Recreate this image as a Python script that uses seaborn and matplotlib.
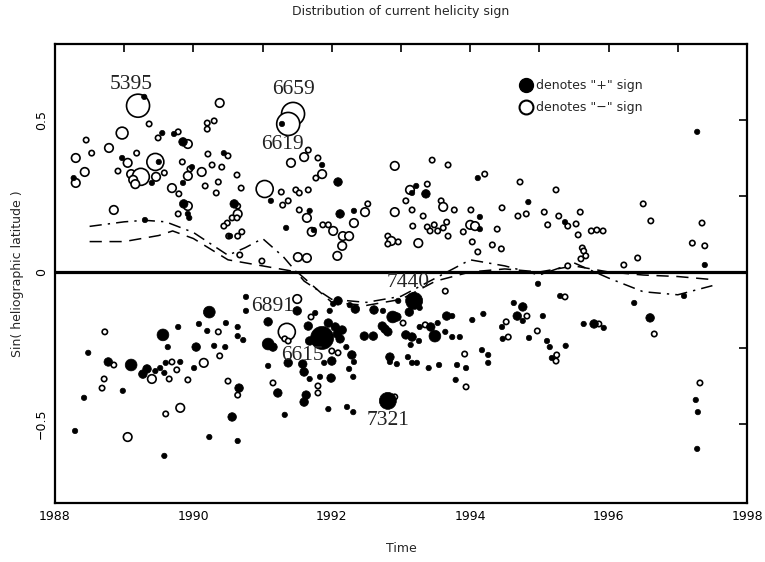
import numpy as np
import pandas as pd
import matplotlib
matplotlib.use("Agg")
import matplotlib.pyplot as plt
import seaborn as sns
from matplotlib.lines import Line2D

# ---------------- data ----------------
# "-" sign (open circles): year, sin(latitude), size class
neg_year = [1989.20, 1990.38, 1989.36, 1988.97, 1990.30, 1990.20, 1990.20, 1988.45, 1989.49, 1989.78,
            1989.92, 1988.78, 1988.53, 1989.18, 1988.30, 1989.45, 1989.05, 1989.84, 1990.21, 1990.50,
            1989.95, 1990.12, 1990.27, 1990.41, 1988.43, 1988.91, 1989.10, 1989.24, 1989.13, 1989.46,
            1989.58, 1989.16, 1988.30, 1989.92, 1989.69, 1990.17, 1990.36, 1990.33, 1989.79, 1989.92,
            1989.78, 1988.85, 1990.49, 1990.44, 1990.51, 1991.44, 1991.37, 1991.66, 1991.60, 1991.41,
            1991.80, 1991.86, 1991.77, 1992.91, 1990.63, 1990.69, 1991.03, 1991.27, 1991.48, 1991.53,
            1991.66, 1991.29, 1991.37, 1991.53, 1991.64, 1992.48, 1992.52, 1992.91, 1990.64, 1990.64,
            1990.56, 1990.63, 1991.71, 1991.87, 1991.95, 1992.02, 1992.16, 1992.25, 1992.32, 1992.15,
            1992.81, 1992.86, 1992.81, 1990.64, 1990.70, 1990.67, 1990.99, 1991.51, 1991.64, 1992.08,
            1993.45, 1993.68, 1994.21, 1994.72, 1993.13, 1993.38, 1993.58, 1993.61, 1993.77, 1993.07,
            1993.16, 1993.32, 1993.17, 1993.38, 1993.42, 1993.48, 1993.53, 1993.61, 1993.66, 1993.68,
            1994.01, 1994.00, 1994.07, 1993.90, 1994.03, 1994.11, 1994.32, 1994.45, 1994.39, 1994.46,
            1994.81, 1994.69, 1995.07, 1995.24, 1995.12, 1995.28, 1995.41, 1993.25, 1995.41, 1992.96,
            1996.50, 1996.61, 1995.59, 1995.53, 1995.56, 1995.75, 1995.83, 1995.92, 1997.35, 1997.21,
            1997.39, 1995.62, 1995.64, 1995.67, 1995.60, 1996.22, 1996.42,
            1990.36, 1988.72, 1990.38, 1988.85, 1989.40, 1989.69, 1989.76, 1989.65, 1989.92, 1990.15,
            1988.71, 1988.68, 1989.81, 1989.60, 1990.50, 1989.05, 1991.50, 1991.70, 1991.35, 1991.32,
            1991.37, 1992.00, 1992.09, 1991.80, 1990.64, 1991.15, 1991.80, 1993.64, 1993.03, 1993.35,
            1993.92, 1993.94, 1994.82, 1994.52, 1994.55, 1994.97, 1995.37, 1995.25, 1995.24, 1992.91,
            1996.66, 1995.86, 1997.32]
neg_lat = [0.547, 0.556, 0.487, 0.457, 0.497, 0.490, 0.470, 0.434, 0.441, 0.461,
           0.421, 0.408, 0.391, 0.391, 0.375, 0.362, 0.359, 0.362, 0.388, 0.382,
           0.339, 0.329, 0.352, 0.345, 0.329, 0.332, 0.322, 0.313, 0.303, 0.313,
           0.326, 0.289, 0.293, 0.316, 0.276, 0.283, 0.296, 0.260, 0.257, 0.217,
           0.191, 0.204, 0.161, 0.151, 0.118, 0.520, 0.487, 0.401, 0.378, 0.359,
           0.375, 0.322, 0.309, 0.349, 0.319, 0.276, 0.273, 0.263, 0.270, 0.260,
           0.270, 0.220, 0.234, 0.204, 0.178, 0.197, 0.224, 0.197, 0.217, 0.191,
           0.178, 0.178, 0.132, 0.155, 0.155, 0.135, 0.118, 0.118, 0.161, 0.086,
           0.118, 0.102, 0.092, 0.118, 0.132, 0.056, 0.036, 0.049, 0.046, 0.053,
           0.368, 0.352, 0.322, 0.296, 0.270, 0.289, 0.234, 0.214, 0.204, 0.234,
           0.204, 0.184, 0.151, 0.148, 0.135, 0.155, 0.135, 0.145, 0.164, 0.118,
           0.204, 0.155, 0.151, 0.132, 0.099, 0.066, 0.089, 0.076, 0.141, 0.211,
           0.191, 0.184, 0.197, 0.270, 0.155, 0.184, 0.151, 0.095, 0.020, 0.099,
           0.224, 0.168, 0.197, 0.158, 0.122, 0.135, 0.138, 0.135, 0.161, 0.095,
           0.086, 0.079, 0.069, 0.053, 0.043, 0.023, 0.046,
           -0.197, -0.197, -0.276, -0.306, -0.352, -0.296, -0.322, -0.352, -0.355, -0.299,
           -0.352, -0.382, -0.447, -0.467, -0.359, -0.543, -0.089, -0.148, -0.197, -0.220,
           -0.227, -0.260, -0.266, -0.375, -0.405, -0.365, -0.398, -0.063, -0.168, -0.174,
           -0.270, -0.378, -0.145, -0.164, -0.214, -0.194, -0.082, -0.273, -0.293, -0.411,
           -0.204, -0.171, -0.365]
neg_size = [5, 2, 1, 3, 1, 1, 1, 1, 1, 1,
            2, 2, 1, 1, 2, 4, 2, 1, 1, 1,
            1, 2, 1, 1, 2, 1, 2, 4, 2, 2,
            1, 2, 2, 2, 2, 1, 1, 1, 1, 2,
            1, 2, 1, 1, 1, 5, 5, 1, 2, 2,
            1, 2, 1, 2, 1, 1, 4, 1, 1, 1,
            1, 1, 1, 1, 2, 2, 1, 2, 1, 2,
            1, 1, 2, 1, 1, 2, 2, 2, 2, 2,
            1, 2, 1, 1, 1, 1, 1, 2, 2, 2,
            1, 1, 1, 1, 2, 1, 1, 2, 1, 1,
            1, 1, 1, 1, 1, 1, 1, 1, 1, 1,
            1, 2, 2, 1, 1, 1, 1, 1, 1, 1,
            1, 1, 1, 1, 1, 1, 1, 2, 1, 1,
            1, 1, 1, 1, 1, 1, 1, 1, 1, 1,
            1, 1, 1, 1, 1, 1, 1,
            1, 1, 1, 1, 2, 1, 1, 1, 1, 2,
            1, 1, 2, 1, 1, 2, 2, 1, 4, 1,
            1, 1, 1, 1, 1, 1, 1, 1, 1, 1,
            1, 1, 1, 1, 1, 1, 1, 1, 1, 1,
            1, 1, 1]

# "+" sign (filled circles)
pos_year = [1989.29, 1989.55, 1989.72, 1989.85, 1988.97, 1989.50, 1990.44, 1989.98, 1989.40, 1988.27,
            1989.85, 1989.86, 1989.92, 1989.94, 1989.30, 1991.28, 1991.86, 1992.09, 1991.12, 1991.68,
            1992.12, 1992.32, 1990.59, 1991.34, 1991.74, 1990.53, 1993.22, 1993.16, 1993.36, 1994.11,
            1994.14, 1994.14, 1994.84, 1995.37, 1997.28, 1997.39,
            1990.23, 1990.08, 1990.20, 1990.47, 1989.78, 1989.56, 1989.63, 1990.04, 1990.30, 1990.46,
            1988.48, 1988.77, 1989.10, 1989.33, 1989.45, 1989.52, 1989.27, 1989.60, 1989.81, 1989.58,
            1990.01, 1988.98, 1988.42, 1990.56, 1988.29, 1990.23, 1989.58, 1990.76, 1990.76, 1991.50,
            1991.76, 1991.08, 1990.64, 1990.64, 1990.72, 1991.08, 1991.15, 1991.66, 1991.86, 1991.95,
            1992.05, 1992.15, 1991.79, 1991.68, 1992.08, 1992.12, 1992.21, 1992.29, 1992.32, 1992.00,
            1991.89, 1992.09, 1992.02, 1991.97, 1992.34, 1992.26, 1992.61, 1992.74, 1992.88, 1992.73,
            1992.77, 1992.81, 1992.47, 1992.60, 1991.37, 1991.58, 1991.60, 1991.08, 1991.68, 1991.83,
            1991.99, 1992.31, 1992.25, 1990.66, 1991.22, 1991.63, 1991.60, 1991.95, 1992.22, 1992.31,
            1991.32, 1990.64, 1992.81, 1992.84, 1992.94, 1992.84, 1993.19, 1993.12, 1993.27, 1992.96,
            1992.94, 1993.27, 1993.43, 1993.53, 1993.66, 1993.74, 1994.03, 1994.19, 1993.49, 1993.64,
            1993.74, 1993.85, 1993.07, 1993.16, 1993.14, 1993.26, 1993.10, 1993.16, 1993.23, 1993.40,
            1993.55, 1993.81, 1993.94, 1993.79, 1994.17, 1994.26, 1994.26, 1994.63, 1994.76, 1994.68,
            1994.76, 1994.46, 1994.47, 1994.85, 1995.05, 1994.98, 1995.30, 1995.11, 1995.15, 1995.18,
            1995.38, 1996.37, 1996.60, 1995.64, 1995.79, 1995.93, 1997.09, 1997.26, 1997.29, 1997.28]
pos_lat = [0.576, 0.457, 0.454, 0.428, 0.375, 0.362, 0.391, 0.345, 0.293, 0.309,
           0.293, 0.224, 0.191, 0.178, 0.171, 0.487, 0.352, 0.296, 0.234, 0.201,
           0.191, 0.201, 0.224, 0.145, 0.138, 0.118, 0.283, 0.260, 0.257, 0.309,
           0.181, 0.141, 0.230, 0.164, 0.461, 0.023,
           -0.132, -0.171, -0.194, -0.168, -0.181, -0.207, -0.247, -0.247, -0.243, -0.247,
           -0.266, -0.296, -0.306, -0.319, -0.326, -0.316, -0.336, -0.299, -0.296, -0.332,
           -0.316, -0.391, -0.414, -0.477, -0.523, -0.543, -0.605, -0.082, -0.128, -0.128,
           -0.135, -0.164, -0.181, -0.211, -0.224, -0.237, -0.247, -0.178, -0.217, -0.168,
           -0.181, -0.191, -0.214, -0.227, -0.204, -0.220, -0.247, -0.273, -0.296, -0.293,
           -0.299, -0.095, -0.105, -0.128, -0.122, -0.109, -0.125, -0.128, -0.148, -0.178,
           -0.188, -0.197, -0.211, -0.211, -0.299, -0.303, -0.329, -0.309, -0.352, -0.345,
           -0.349, -0.345, -0.319, -0.382, -0.398, -0.405, -0.428, -0.451, -0.444, -0.461,
           -0.470, -0.556, -0.424, -0.296, -0.303, -0.280, -0.095, -0.132, -0.118, -0.095,
           -0.148, -0.181, -0.181, -0.168, -0.145, -0.145, -0.158, -0.138, -0.211, -0.197,
           -0.214, -0.214, -0.207, -0.214, -0.240, -0.227, -0.280, -0.299, -0.299, -0.316,
           -0.306, -0.306, -0.316, -0.355, -0.257, -0.273, -0.299, -0.102, -0.115, -0.145,
           -0.161, -0.181, -0.220, -0.217, -0.145, -0.039, -0.079, -0.227, -0.247, -0.283,
           -0.243, -0.102, -0.151, -0.171, -0.171, -0.184, -0.079, -0.421, -0.461, -0.582]
pos_size = [1, 1, 1, 2, 1, 1, 1, 1, 1, 1,
            1, 2, 1, 1, 1, 1, 1, 2, 1, 1,
            2, 1, 2, 1, 1, 1, 1, 1, 2, 1,
            1, 1, 1, 1, 1, 1,
            3, 1, 1, 1, 1, 3, 1, 2, 1, 1,
            1, 2, 3, 2, 1, 1, 2, 1, 1, 1,
            1, 1, 1, 2, 1, 1, 1, 1, 1, 2,
            1, 2, 1, 1, 1, 3, 2, 2, 5, 2,
            2, 2, 2, 2, 2, 2, 1, 2, 1, 2,
            1, 2, 1, 1, 2, 1, 2, 1, 3, 2,
            2, 2, 2, 2, 2, 2, 2, 1, 1, 1,
            2, 1, 1, 2, 2, 2, 2, 1, 1, 1,
            1, 1, 4, 1, 1, 2, 4, 2, 1, 1,
            2, 1, 2, 1, 2, 1, 1, 1, 3, 1,
            1, 1, 2, 2, 1, 1, 1, 1, 1, 1,
            1, 1, 1, 1, 1, 1, 1, 1, 2, 2,
            1, 1, 1, 1, 1, 1, 1, 1, 1, 1,
            1, 1, 2, 1, 2, 1, 1, 1, 1, 1]

# mean-latitude curves
dashdot_year = [1988.5, 1989.0, 1989.3, 1989.6, 1990.0, 1990.5, 1990.75, 1991.0, 1991.3, 1991.6,
                1992.0, 1992.5, 1993.0, 1993.5, 1994.0, 1994.5, 1995.0, 1995.5, 1996.0, 1996.5,
                1997.0, 1997.5]
dashdot_lat = [0.15, 0.165, 0.17, 0.165, 0.13, 0.055, 0.08, 0.11, 0.05, -0.03,
               -0.09, -0.10, -0.08, -0.02, 0.04, 0.02, -0.01, 0.03, -0.02, -0.065,
               -0.075, -0.045]
dash_year = [1988.5, 1989.0, 1989.5, 1989.7, 1990.0, 1990.5, 1991.0, 1991.5, 1992.0, 1992.5,
             1993.0, 1993.5, 1994.0, 1994.5, 1995.0, 1995.5, 1996.0, 1996.5, 1997.0, 1997.5]
dash_lat = [0.10, 0.10, 0.12, 0.135, 0.11, 0.04, 0.02, 0.0, -0.10, -0.11,
            -0.09, -0.03, 0.0, 0.01, 0.0, 0.02, 0.0, -0.01, -0.015, -0.025]

# labelled active regions
ar_labels = ["5395", "6659", "6619", "6891", "6615", "7440", "7321"]
ar_year = [1989.10, 1991.44, 1991.28, 1991.14, 1991.58, 1993.10, 1992.81]
ar_lat = [0.618, 0.599, 0.421, -0.115, -0.276, -0.033, -0.490]

xtick_years = list(range(1988, 1999))
ytick_vals = [-0.5, -0.25, 0, 0.25, 0.5]
ytick_labels = ["\u22120.5", "", "0", "", "0.5"]

# ---------------- plot ----------------
sns.set_theme(style="white")
plt.rcParams['font.family'] = ['DejaVu Sans']

fig = plt.figure(figsize=(7.65, 5.62), dpi=100)
ax = fig.add_axes([55/765, 1-503/562, (747-55)/765, (503-44)/562])

size_map = {1: 15, 2: 38, 3: 72, 4: 150, 5: 275}

neg_df = pd.DataFrame({"year": neg_year, "lat": neg_lat, "sz": neg_size})
pos_df = pd.DataFrame({"year": pos_year, "lat": pos_lat, "sz": pos_size})

ax.axhline(0, color="black", lw=2.3, zorder=1)

sns.lineplot(x=dashdot_year, y=dashdot_lat, ax=ax, color="black", lw=1.1, zorder=2)
ax.lines[-1].set_dashes([8, 4, 1.5, 4])
sns.lineplot(x=dash_year, y=dash_lat, ax=ax, color="black", lw=1.1, zorder=2)
ax.lines[-1].set_dashes([8, 5])

sns.scatterplot(data=neg_df, x="year", y="lat", size="sz", sizes=size_map, ax=ax,
                color="white", edgecolor="black", linewidth=1.2, legend=False, zorder=3)
sns.scatterplot(data=pos_df, x="year", y="lat", size="sz", sizes=size_map, ax=ax,
                color="black", edgecolor="black", linewidth=0.5, legend=False, zorder=4)

for lab, xx, yy in zip(ar_labels, ar_year, ar_lat):
    ax.text(xx, yy, lab, family="Liberation Serif", fontsize=15.5, ha="center",
            va="center", color="#222222", zorder=5)

ax.set_xlim(1988, 1998)
ax.set_ylim(-0.76, 0.75)
ax.set_xticks(xtick_years)
ax.set_xticklabels([str(y) if y % 2 == 0 else "" for y in xtick_years])
ax.set_yticks(ytick_vals)
ax.set_yticklabels(ytick_labels)
ax.tick_params(axis="both", direction="in", length=6, width=1.2, top=True, right=True,
               labelsize=9, pad=5, colors="black")
plt.setp(ax.get_yticklabels(), rotation=90, va="center")
for s in ax.spines.values():
    s.set_linewidth(1.6)
    s.set_color("black")

ax.set_xlabel("Time", fontsize=9, labelpad=14)
ax.set_ylabel("Sin( heliographic latitude )", fontsize=9, labelpad=8)
fig.text(401/765, 1-12/562, "Distribution of current helicity sign", ha="center",
         va="center", fontsize=9)

handles = [Line2D([], [], marker="o", ls="none", color="black", markersize=10),
           Line2D([], [], marker="o", ls="none", markerfacecolor="white",
                  markeredgecolor="black", markeredgewidth=1.5, markersize=10)]
ax.legend(handles, ['denotes "+" sign', 'denotes "\u2212" sign'], loc="upper left",
          bbox_to_anchor=(0.655, 0.948), frameon=False, fontsize=9, handletextpad=0.3,
          labelspacing=0.75, handlelength=1.0)

fig.savefig("out.png", dpi=100)
